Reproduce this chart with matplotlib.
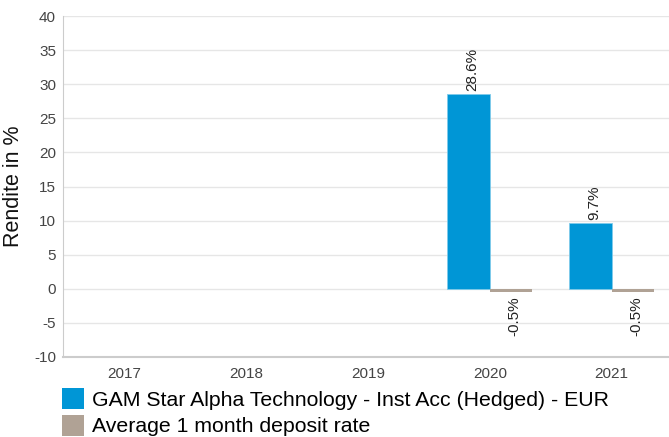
import matplotlib
matplotlib.use("Agg")
import matplotlib.pyplot as plt
from matplotlib.patches import Patch
import numpy as np

plt.rcParams['font.family'] = ['Liberation Sans', 'DejaVu Sans']
plt.rcParams['axes.unicode_minus'] = False

years = ["2017", "2018", "2019", "2020", "2021"]
fund = [None, None, None, 28.6, 9.7]
deposit = [None, None, None, -0.5, -0.5]
fund_name = "GAM Star Alpha Technology - Inst Acc (Hedged) - EUR"
deposit_name = "Average 1 month deposit rate"

blue = "#0096D6"
grey = "#B0A295"

fig = plt.figure(figsize=(6.69, 4.37), dpi=100)
ax = fig.add_axes([63/669, 1-357/437, 1-63/669, (357-16)/437])

x = np.arange(len(years))
w = 0.35
for i, (f, d) in enumerate(zip(fund, deposit)):
    if f is not None:
        ax.bar(i - w/2, f, width=w, color=blue, edgecolor="#7FCBEA", linewidth=0.6, zorder=3)
        ax.text(i - w/2 + 0.03, f + 0.4, f"{f:.1f}%", rotation=90, ha="center", va="bottom",
                fontsize=11, color="#222222", zorder=4)
    if d is not None:
        ax.bar(i + w/2, d, width=w, color=grey, zorder=3)
        ax.text(i + w/2 + 0.03, d - 0.6, f"{d:.1f}%", rotation=90, ha="center", va="top",
                fontsize=11, color="#222222", zorder=4)

ax.set_xlim(-0.5, 4.47)
ax.set_ylim(-10, 40)
ax.set_yticks(np.arange(-10, 41, 5))
ax.set_xticks(x)
ax.set_xticklabels(years)
ax.grid(axis="y", color="#E6E6E6", linewidth=1, zorder=0)
ax.set_axisbelow(True)
for s in ["top", "right"]:
    ax.spines[s].set_visible(False)
ax.spines["left"].set_color("#CCCCCC")
ax.spines["bottom"].set_color("#CCCCCC")
ax.spines["bottom"].set_linewidth(1.5)
ax.tick_params(axis="both", length=0, labelsize=11, colors="#444444", pad=5)
ax.tick_params(axis="x", pad=7)
ax.set_ylabel("Rendite in %", fontsize=15.5, color="#111111", labelpad=7)

handles = [Patch(facecolor=blue, label=fund_name), Patch(facecolor=grey, label=deposit_name)]
fig.legend(handles=handles, loc="upper left", bbox_to_anchor=(60/669, 1-386/437), frameon=False,
           fontsize=15.3, handlelength=1.05, handleheight=1.15, handletextpad=0.35,
           labelspacing=0.22, borderaxespad=0, borderpad=0.1)

fig.savefig("out.png", dpi=100)
